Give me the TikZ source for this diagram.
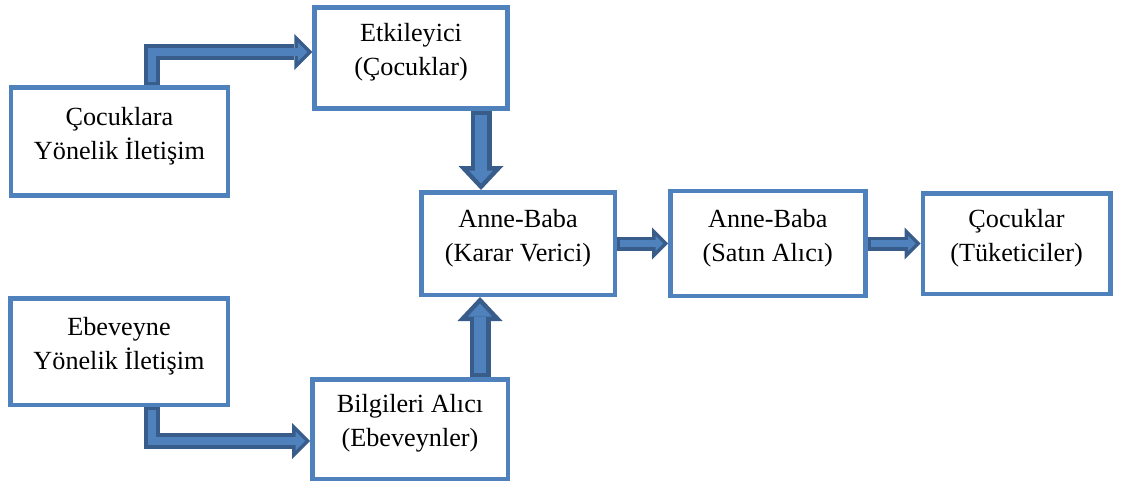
\documentclass[tikz,border=0pt]{standalone}
\usepackage{fontspec}
\setmainfont{Liberation Serif}
\usetikzlibrary{arrows.meta,positioning}

\definecolor{boxblue}{RGB}{79,129,189}
\definecolor{arrowdark}{RGB}{56,93,138}

\begin{document}
\begin{tikzpicture}[
  x=1pt, y=-1pt,
  stage/.style={draw=boxblue,fill=white,line width=4.5pt,inner sep=0pt,align=center,
    text depth=17pt,font=\fontsize{26.2}{34}\selectfont},
  bflow/.style={draw=arrowdark,line width=16pt,-{Triangle[length=18pt,width=36pt,line width=0pt]},
    postaction={draw=boxblue,line width=7.5pt,shorten <=3pt,shorten >=5pt,
      -{Triangle[length=9.5pt,width=19pt,line width=0pt]}}},
  vflow/.style={draw=arrowdark,line width=21pt,-{Triangle[length=24pt,width=45pt,line width=0pt]},
    postaction={draw=boxblue,line width=11.5pt,shorten <=4pt,shorten >=6.6pt,
      -{Triangle[length=12.9pt,width=24.2pt,line width=0pt]}}},
  hflow/.style={draw=arrowdark,line width=14pt,-{Triangle[length=16pt,width=32pt,line width=0pt]},
    postaction={draw=boxblue,line width=6.5pt,shorten <=3pt,shorten >=5pt,
      -{Triangle[length=7.5pt,width=15pt,line width=0pt]}}}
]
  \useasboundingbox (0,0) rectangle (1124,484);

  % boxes
  \node[stage,minimum width=217pt,minimum height=108pt] (CI) at (119.5,141.5) {Çocuklara\\Yönelik İletişim};
  \node[stage,minimum width=193pt,minimum height=101pt] (E) at (411,58) {Etkileyici\\(Çocuklar)};
  \node[stage,minimum width=193.5pt,minimum height=102.5pt] (K) at (518,243.5) {Anne-Baba\\(Karar Verici)};
  \node[stage,minimum width=195pt,minimum height=105pt,right=51pt of K] (S) {Anne-Baba\\(Satın Alıcı)};
  \node[stage,minimum width=187.5pt,minimum height=100.5pt,right=53pt of S] (T) {Çocuklar\\(Tüketiciler)};
  \node[stage,minimum width=217.5pt,minimum height=106.5pt] (EI) at (119,351.5) {Ebeveyne\\Yönelik İletişim};
  \node[stage,minimum width=195.5pt,minimum height=99.5pt] (B) at (410,429) {Bilgileri Alıcı\\(Ebeveynler)};

  % arrows
  \draw[bflow] ([xshift=32.5pt]CI.north) |- ([yshift=6pt]E.west);
  \draw[bflow] ([xshift=33pt]EI.south) |- ([yshift=-12pt]B.west);
  \draw[vflow] ([xshift=70pt]E.south) -- ([xshift=-37pt]K.north);
  \draw[vflow] ([xshift=70pt]B.north) -- ([xshift=-38pt]K.south);
  \draw[hflow] (K.east) -- (S.west);
  \draw[hflow] (S.east) -- (T.west);
\end{tikzpicture}
\end{document}
